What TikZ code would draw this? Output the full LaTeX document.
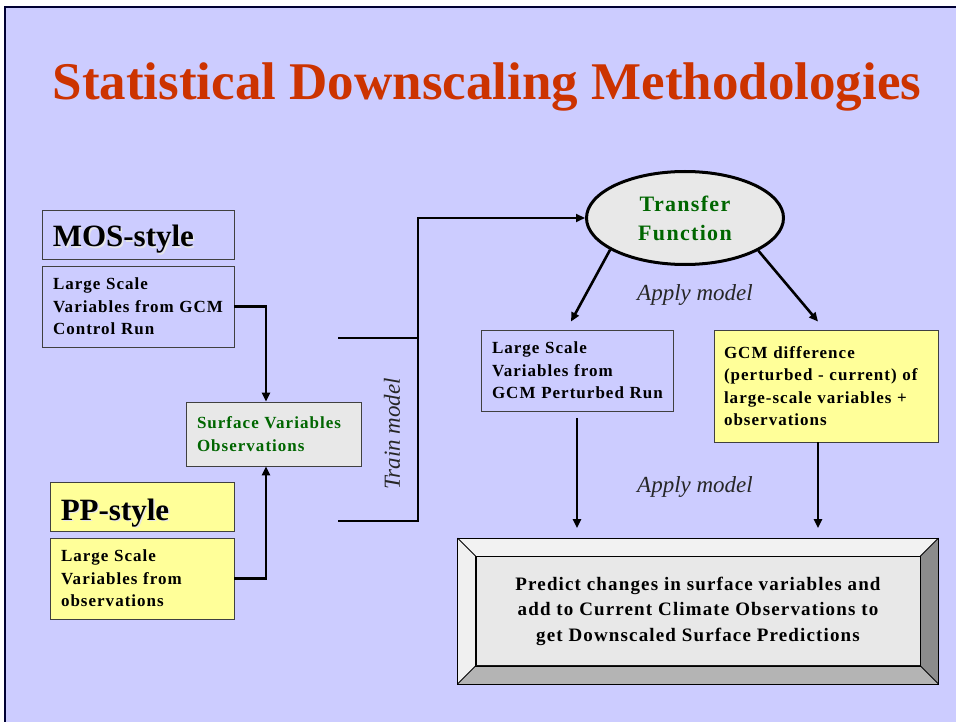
\documentclass[tikz,border=0pt]{standalone}
\usepackage{fontspec}
\setmainfont{Liberation Serif}
\newfontfamily\spacedserif{Liberation Serif}[LetterSpace=6]
\usetikzlibrary{shapes.geometric,arrows.meta,calc}
\definecolor{bgc}{HTML}{CCCCFF}
\definecolor{ttl}{HTML}{CC3300}
\definecolor{yel}{HTML}{FFFF99}
\definecolor{gry}{HTML}{E8E8E8}
\definecolor{grn}{HTML}{006600}
\definecolor{bvtop}{HTML}{F2F2F2}
\definecolor{bvleft}{HTML}{F0F0F0}
\definecolor{bvright}{HTML}{8C8C8C}
\definecolor{bvbot}{HTML}{B4B4B4}
\definecolor{shad}{HTML}{E6E6E6}
\hbadness=10000 \hfuzz=100pt
\tikzset{
  box/.style={draw=black!75, line width=0.9pt, inner xsep=11pt, inner ysep=0pt, align=left,
    font=\spacedserif\fontsize{17}{22.5}\selectfont\bfseries},
  headbox/.style={draw=black!75, line width=0.9pt, inner sep=0pt},
  headtext/.style={anchor=base west, inner sep=0pt, font=\fontsize{31}{34}\selectfont\bfseries},
  conn/.style={line width=2.6pt, -{Triangle[length=9pt,width=8pt]}},
  plainline/.style={line width=2.6pt},
  applylbl/.style={font=\fontsize{23}{26}\selectfont\itshape, text=black!85, inner sep=0pt}
}
\begin{document}
\begin{tikzpicture}[x=1pt,y=-1pt]
\useasboundingbox (0,0) rectangle (956,722);
\fill[white] (0,0) rectangle (956,722);
\fill[bgc] (5,7) rectangle (956,722);
\draw[line width=1.6pt, black!80!blue] (5,722) -- (5,7) -- (956,7);

% title
\node[anchor=base, text=ttl, font=\fontsize{53}{60}\selectfont\bfseries, inner sep=0pt] (title) at (487,100) {Statistical Downscaling Methodologies};

% left column
\node[headbox, minimum width=192pt, minimum height=49pt] (mos) at (138,234.5) {};
\node[headtext, text=shad] (mosshadow) at ($(mos.west)+(12.5,14)$) {MOS-style};
\node[headtext] (mostxt) at ($(mos.west)+(11,12.5)$) {MOS-style};
\node[box, minimum width=192pt, minimum height=81pt, text width=170pt] (mosl) at (138,306.5) {Large Scale\\\mbox{Variables from GCM}\\Control Run};
\node[box, fill=gry, text=grn, minimum width=175pt, minimum height=64pt, text width=153pt] (surf) at (273.5,434) {Surface Variables\\Observations};
\node[headbox, fill=yel, minimum width=184pt, minimum height=49pt] (pp) at (142,506.5) {};
\node[headtext, text=shad] (ppshadow) at ($(pp.west)+(12.5,15)$) {PP-style};
\node[headtext] (pptxt) at ($(pp.west)+(11,13.5)$) {PP-style};
\node[box, fill=yel, minimum width=184pt, minimum height=81pt, text width=162pt] (ppl) at (142,578.5) {Large Scale\\Variables from\\observations};

\coordinate (surfin) at ($(surf.north)+(-7.5,0)$);
\coordinate (surfbot) at ($(surf.south)+(-7.5,0)$);
\draw[conn] (mosl.east) -| (surfin);
\draw[conn] (ppl.east) -| (surfbot);

% train model
\node[ellipse, draw=black, line width=3pt, fill=gry, minimum width=197pt, minimum height=93pt, inner sep=0pt,
  align=center, text=grn, font=\spacedserif\fontsize{22}{29}\selectfont\bfseries] (tf) at (685,218) {Transfer\\Function};
\coordinate (tA) at (338,338);
\coordinate (tB) at (338,521);
\coordinate (jA) at (418,338);
\coordinate (jB) at (418,521);
\coordinate (jT) at (418,218);
\draw[plainline] (tA) -- (jA);
\draw[conn] (tB) -- (jB) -- (jT) -- (tf.west);
\node[applylbl, rotate=90] (train) at (392,434) {Train model};

% right part
\node[box, minimum width=192pt, minimum height=81pt, text width=170pt] (pert) at (577,370.5) {Large Scale\\Variables from\\\mbox{GCM Perturbed Run}};
\node[box, fill=yel, minimum width=224pt, minimum height=112pt, text width=204pt, inner xsep=10pt] (gcm) at (826,386) {GCM difference\\(perturbed - current) of\\large-scale variables +\\observations\\[11pt]};

\coordinate (pertin) at ($(pert.north)+(-6,-8)$);
\coordinate (gcmin) at ($(gcm.north)+(-8,-8)$);
\draw[conn] (tf.203) -- (pertin);
\draw[conn] (tf.-24) -- (gcmin);
\node[applylbl] (apply1) at (695,295) {Apply model};
\node[applylbl] (apply2) at (695,487) {Apply model};

% bevelled result box
\node[draw=black, line width=0.8pt, fill=gry, minimum width=444pt, minimum height=109pt, inner sep=0pt, align=center,
  font=\spacedserif\fontsize{19}{25.5}\selectfont\bfseries] (pred) at (698,611)
  {Predict changes in surface variables and\\add to Current Climate Observations to\\get Downscaled Surface Predictions};
\coordinate (oNW) at ($(pred.north west)+(-18,-18)$);
\coordinate (oNE) at ($(pred.north east)+(18,-18)$);
\coordinate (oSW) at ($(pred.south west)+(-18,18)$);
\coordinate (oSE) at ($(pred.south east)+(18,18)$);
\fill[bvtop] (oNW) -- (oNE) -- (pred.north east) -- (pred.north west) -- cycle;
\fill[bvleft] (oNW) -- (pred.north west) -- (pred.south west) -- (oSW) -- cycle;
\fill[bvright] (oNE) -- (oSE) -- (pred.south east) -- (pred.north east) -- cycle;
\fill[bvbot] (oSW) -- (oSE) -- (pred.south east) -- (pred.south west) -- cycle;
\draw[line width=0.8pt] (oNW) rectangle (oSE);
\draw[line width=0.8pt] (oNW) -- (pred.north west) (oNE) -- (pred.north east)
  (oSW) -- (pred.south west) (oSE) -- (pred.south east);
\draw[line width=0.8pt] (pred.north west) rectangle (pred.south east);

\coordinate (pertout) at ($(pert.south)+(0,7)$);
\coordinate (gcmout) at ($(gcm.south)+(-8,0)$);
\draw[conn, shorten >=10pt] (pertout) -- (pertout |- oNW);
\draw[conn, shorten >=10pt] (gcmout) -- (gcmout |- oNW);
\end{tikzpicture}
\end{document}
